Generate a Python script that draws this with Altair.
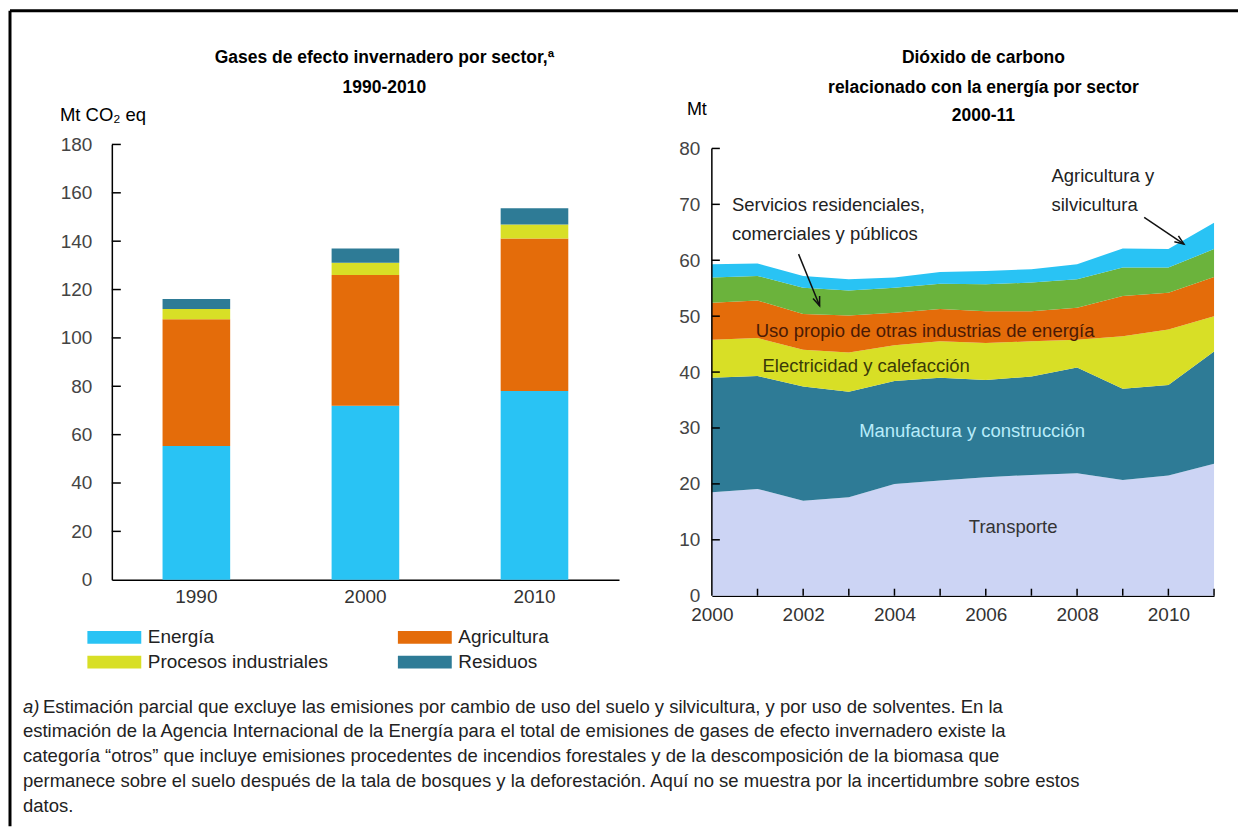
import altair as alt
import pandas as pd

FONT = "Liberation Sans"

# ---------------- Left chart data ----------------
bar_years = ["1990", "2000", "2010"]
bar_sectors = ["Energía", "Agricultura", "Procesos industriales", "Residuos"]
energia = [55.3, 71.9, 78.0]
agricultura = [52.4, 54.1, 63.1]
procesos = [4.3, 5.1, 5.8]
residuos = [4.1, 5.9, 6.7]
bar_colors = ["#29c3f4", "#e46c0a", "#d8df26", "#2e7b96"]
# legend fills column by column: first column Energía / Procesos, second Agricultura / Residuos
legend_order = ["Energía", "Procesos industriales", "Agricultura", "Residuos"]
left_ticks = [20, 40, 60, 80, 100, 120, 140, 160, 180]

# ---------------- Right chart data ----------------
area_years = [2000, 2001, 2002, 2003, 2004, 2005, 2006, 2007, 2008, 2009, 2010, 2011]
area_sectors = ["Transporte", "Manufactura y construcción", "Electricidad y calefacción",
                "Uso propio de otras industrias de energía",
                "Servicios residenciales, comerciales y públicos", "Agricultura y silvicultura"]
transporte = [18.5, 19.1, 17.0, 17.6, 20.0, 20.6, 21.2, 21.6, 21.9, 20.7, 21.5, 23.6]
manufactura = [20.5, 20.2, 20.4, 18.9, 18.4, 18.4, 17.4, 17.6, 18.9, 16.3, 16.2, 20.1]
electricidad = [6.8, 6.8, 6.6, 7.0, 6.4, 6.5, 6.6, 6.3, 5.0, 9.4, 9.9, 6.3]
uso_propio = [6.6, 6.7, 6.4, 6.6, 5.8, 5.8, 5.7, 5.4, 5.7, 7.2, 6.6, 7.0]
servicios = [4.5, 4.4, 4.7, 4.5, 4.5, 4.5, 4.8, 5.1, 5.1, 5.1, 4.5, 5.0]
agri_silv = [2.4, 2.2, 2.1, 2.0, 1.8, 2.1, 2.4, 2.4, 2.7, 3.4, 3.3, 4.7]
area_colors = ["#ccd4f4", "#2e7b96", "#d8df26", "#e46c0a", "#6bb33c", "#29c3f4"]
right_yticks = [10, 20, 30, 40, 50, 60, 70, 80]
right_xticks = [2001, 2002, 2003, 2004, 2005, 2006, 2007, 2008, 2009, 2010, 2011]
right_xlabels = [2000, 2002, 2004, 2006, 2008, 2010]

footnote_lines = [
    "Estimación parcial que excluye las emisiones por cambio de uso del suelo y silvicultura, y por uso de solventes. En la",
    "estimación de la Agencia Internacional de la Energía para el total de emisiones de gases de efecto invernadero existe la",
    "categoría \u201cotros\u201d que incluye emisiones procedentes de incendios forestales y de la descomposición de la biomasa que",
    "permanece sobre el suelo después de la tala de bosques y la deforestación. Aquí no se muestra por la incertidumbre sobre estos",
    "datos.",
]

# ---------------- build tables ----------------
rows = []
for i, (name, vals) in enumerate(zip(bar_sectors, [energia, agricultura, procesos, residuos])):
    for y, v in zip(bar_years, vals):
        rows.append({"year": y, "sector": name, "value": v, "ord": i})
df_bar = pd.DataFrame(rows)
color_of = dict(zip(bar_sectors, bar_colors))

rows = []
for i, (name, vals) in enumerate(zip(area_sectors, [transporte, manufactura, electricidad,
                                                    uso_propio, servicios, agri_silv])):
    for y, v in zip(area_years, vals):
        rows.append({"year": y, "sector": name, "value": v, "ord": i})
df_area = pd.DataFrame(rows)

one = alt.Data(values=[{"a": 1}])

# ---------------- Left chart ----------------
W1, H1 = 508, 436
OX1, OY1 = 112, 144   # page position of plot origin

SWATCH = "M-4,-0.96H4V0.96H-4Z"

bars = alt.Chart(df_bar).mark_bar().encode(
    x=alt.X("year:N", sort=bar_years,
            scale=alt.Scale(paddingInner=0.6, paddingOuter=0.3),
            axis=alt.Axis(title=None, labelAngle=0, ticks=False, domainColor="black",
                          domainWidth=1.5, labelFontSize=19, labelPadding=8, labelColor="#333333")),
    y=alt.Y("value:Q", stack="zero", scale=alt.Scale(domain=[0, 180], nice=False),
            axis=alt.Axis(title=None, values=[0] + left_ticks, ticks=False, grid=False,
                          domainColor="black", domainWidth=1.5, labelFontSize=19,
                          labelPadding=20, labelColor="#444444")),
    color=alt.Color("sector:N",
                    scale=alt.Scale(domain=legend_order, range=[color_of[s] for s in legend_order]),
                    legend=alt.Legend(title=None, orient="none", legendX=-7, legendY=484,
                                      columns=2, symbolType=SWATCH, symbolSize=182,
                                      symbolStrokeWidth=0, labelFontSize=19, labelOffset=24,
                                      columnPadding=69, rowPadding=5, padding=0,
                                      labelColor="#222222", labelLimit=400)),
    order=alt.Order("ord:Q", sort="ascending"),
)

lticks = alt.Chart(pd.DataFrame({"t": left_ticks})).mark_rule(color="black", strokeWidth=1.5).encode(
    y="t:Q", x=alt.value(0), x2=alt.value(9))

def txt(text, x, y, size=19, weight="normal", align="left", color="#111111", style="normal"):
    return alt.Chart(one).mark_text(text=text, align=align, baseline="middle", fontSize=size,
                                    fontWeight=weight, color=color, fontStyle=style).encode(
        x=alt.value(x), y=alt.value(y))

left_layers = [bars, lticks]
# titles
left_layers.append(txt("Gases de efecto invernadero por sector,ª", 385 - OX1, 57 - OY1, 17.5, "bold", "center", "#000000"))
left_layers.append(txt("1990-2010", 385 - OX1, 87 - OY1, 17.5, "bold", "center", "#000000"))
left_layers.append(txt("Mt CO₂ eq", 60 - OX1, 115 - OY1, 18.5, "normal", "left", "#000000"))
# border (frame of the figure)
left_layers.append(alt.Chart(one).mark_rule(color="black", strokeWidth=3).encode(
    x=alt.value(10 - OX1), y=alt.value(10 - OY1), y2=alt.value(827 - OY1)))
left_layers.append(alt.Chart(one).mark_rule(color="black", strokeWidth=3).encode(
    y=alt.value(10 - OY1), x=alt.value(10 - OX1), x2=alt.value(1240 - OX1)))
# footnote
FX = 23
FY = 707
FS = 18.5
left_layers.append(txt("a)", FX - OX1, FY - OY1, FS, style="italic", color="#222222"))
for i, line in enumerate(footnote_lines):
    x0 = FX + 20 if i == 0 else FX
    left_layers.append(txt(line, x0 - OX1, FY + 25 * i - OY1, FS, color="#222222"))

left = alt.layer(*left_layers).properties(width=W1, height=H1)

# ---------------- Right chart ----------------
W2, H2 = 503, 452
OX2, OY2 = OX1 + W1 + 93, OY1
YTOP = 80 * H2 / 448.0

xs = alt.Scale(domain=[2000, 2011], nice=False)
ys = alt.Scale(domain=[0, YTOP], nice=False)

areas = alt.Chart(df_area).mark_area().encode(
    x=alt.X("year:Q", scale=xs,
            axis=alt.Axis(title=None, values=right_xlabels, format="d", ticks=False,
                          domainColor="black", domainWidth=1.5, labelFontSize=19,
                          labelPadding=10, labelColor="#333333", grid=False, labelFlush=False)),
    y=alt.Y("value:Q", stack="zero", scale=ys,
            axis=alt.Axis(title=None, values=[0] + right_yticks, ticks=False, domain=False,
                          grid=False, labelFontSize=19, labelPadding=12, labelColor="#444444")),
    color=alt.Color("sector:N", scale=alt.Scale(domain=area_sectors, range=area_colors), legend=None),
    order=alt.Order("ord:Q", sort="ascending"),
)

ydomain = alt.Chart(one).mark_rule(color="black", strokeWidth=1.5).encode(
    x=alt.value(0), y=alt.datum(0, scale=ys), y2=alt.datum(80))
ryt = alt.Chart(pd.DataFrame({"t": right_yticks})).mark_rule(color="black", strokeWidth=1.5).encode(
    y=alt.Y("t:Q", scale=ys), x=alt.value(0), x2=alt.value(8))
rxt = alt.Chart(pd.DataFrame({"t": right_xticks})).mark_rule(color="black", strokeWidth=1.5).encode(
    x=alt.X("t:Q", scale=xs), y=alt.value(H2), y2=alt.value(H2 - 7))

def dtxt(text, x, y, size=18.5, color="#222222", align="left"):
    return alt.Chart(one).mark_text(text=text, align=align, baseline="middle", fontSize=size,
                                    color=color).encode(
        x=alt.datum(x, scale=xs), y=alt.datum(y, scale=ys))

ARROW = "M-0.5,1.3L0,0L0.5,1.3"

def arrow(x1, y1, x2, y2, ang):
    line = alt.Chart(one).mark_rule(color="#111111", strokeWidth=1.5).encode(
        x=alt.datum(x1, scale=xs), y=alt.datum(y1, scale=ys), x2=alt.datum(x2), y2=alt.datum(y2))
    head = alt.Chart(one).mark_point(shape=ARROW, filled=False, color="#111111", strokeWidth=1.5,
                                     size=200, angle=ang, opacity=1).encode(
        x=alt.datum(x2, scale=xs), y=alt.datum(y2, scale=ys))
    return [line, head]

right_layers = [areas, ydomain, ryt, rxt]
right_layers += [
    dtxt("Servicios residenciales,", 2000.44, 69.8),
    dtxt("comerciales y públicos", 2000.44, 64.7),
    dtxt("Agricultura y", 2007.44, 75.1),
    dtxt("silvicultura", 2007.44, 69.8),
    dtxt("Uso propio de otras industrias de energía", 2000.96, 47.4, color="#4a1a05"),
    dtxt("Electricidad y calefacción", 2001.11, 41.1, color="#3a3a08"),
    dtxt("Manufactura y construcción", 2005.7, 29.5, color="#b8ecfa", align="center"),
    dtxt("Transporte", 2006.6, 12.2, color="#333333", align="center"),
]
right_layers += arrow(2001.9, 61.1, 2002.36, 51.85, 159)
right_layers += arrow(2009.47, 67.66, 2010.34, 62.9, 125)
right_layers.append(txt("Dióxido de carbono", 985 - OX2, 57 - OY2, 17.5, "bold", "center", "#000000"))
right_layers.append(txt("relacionado con la energía por sector", 985 - OX2, 87 - OY2, 17.5, "bold", "center", "#000000"))
right_layers.append(txt("2000-11", 985 - OX2, 116 - OY2, 17.5, "bold", "center", "#000000"))
right_layers.append(txt("Mt", 688 - OX2, 110 - OY2, 18, "normal", "left", "#000000"))

right = alt.layer(*right_layers).properties(width=W2, height=H2)

chart = alt.hconcat(left, right, spacing=93, bounds="flush").resolve_scale(
    color="independent"
).properties(
    padding={"left": 0, "top": 0, "right": 0, "bottom": 0},
    background="white",
).configure(font=FONT).configure_view(stroke=None)

chart.save("out.html", embed_options={"renderer": "svg", "actions": False})
